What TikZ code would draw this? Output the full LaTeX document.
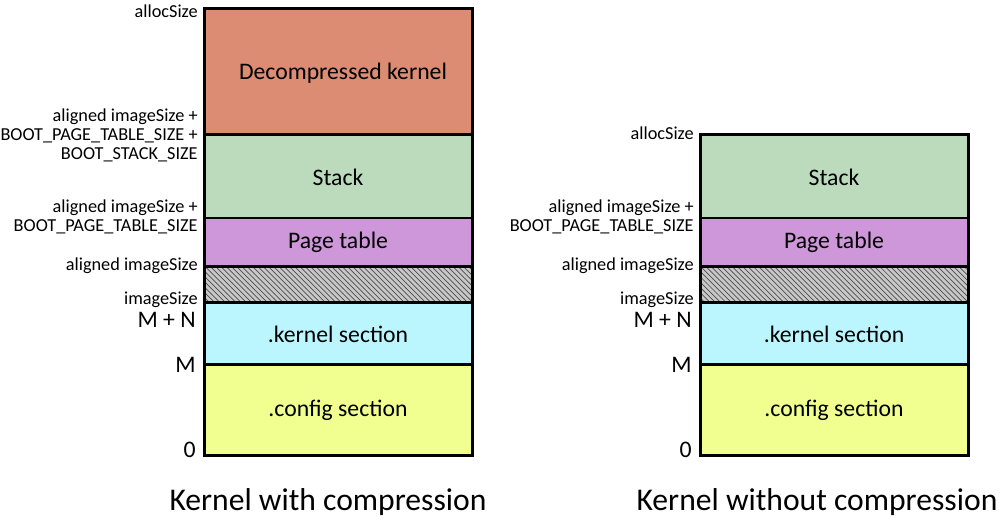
\documentclass[tikz,border=0pt]{standalone}
\usepackage{fontspec}
\setmainfont{Carlito}
\usetikzlibrary{patterns}
\definecolor{kernelred}{HTML}{DB8C73}
\definecolor{stackgreen}{HTML}{BCDBBD}
\definecolor{pagepurple}{HTML}{CD97DA}
\definecolor{padgray}{HTML}{C8C8C8}
\definecolor{kernelcyan}{HTML}{BBF6FF}
\definecolor{configyellow}{HTML}{F1FF90}
\tikzset{
  sect/.style={draw=black,line width=0.06cm},
  sectname/.style={font=\fontsize{13.5}{15}\selectfont},
  addr/.style={anchor=east,align=right,inner sep=0pt,font=\fontsize{10.4}{10.8}\selectfont},
  addrbig/.style={anchor=east,inner sep=0pt,font=\fontsize{13.5}{15}\selectfont},
  caption/.style={font=\fontsize{18}{21}\selectfont}
}
\begin{document}
\begin{tikzpicture}[x=0.02cm,y=-0.02cm]
  \useasboundingbox (0,0) rectangle (1000,520);
  %both layouts
  \foreach \s/\dx in {l/0,r/496}{
    \begin{scope}[xshift=\dx*0.02cm]
      %sections
      \filldraw[sect,fill=stackgreen] (204,135) rectangle (472,218);
      \filldraw[sect,fill=pagepurple] (204,218) rectangle (472,266);
      \fill[padgray] (204,266) rectangle (472,302);
      \fill[pattern=north west lines,pattern color=black!70] (204,266) rectangle (472,302);
      \draw[sect] (204,266) rectangle (472,302);
      \filldraw[sect,fill=kernelcyan] (204,302) rectangle (472,364);
      \filldraw[sect,fill=configyellow] (204,364) rectangle (472,455);
      \node[sectname] (stack-\s) at (338,177) {Stack};
      \node[sectname] (page-\s) at (338,242) {Page table};
      \node[sectname] (kernel-\s) at (338,334) {.kernel section};
      \node[sectname] (config-\s) at (338,410) {.config section};
      %addresses
      \node[addr] (ptop-\s) at (198,217) {aligned imageSize +\\BOOT\_PAGE\_TABLE\_SIZE};
      \node[addr] (aligned-\s) at (198,266) {aligned imageSize};
      \node[addr] (image-\s) at (198,300) {imageSize};
      \node[addrbig] (mn-\s) at (196,320) {M + N};
      \node[addrbig] (m-\s) at (196,365) {M};
      \node[addrbig] (zero-\s) at (196,450) {0};
    \end{scope}
  }
  %with compression
  \filldraw[sect,fill=kernelred] (204,9) rectangle (472,135);
  \node[sectname] (decomp) at (343,73) {Decompressed kernel};
  \node[addr] (alloc-l) at (198,11) {allocSize};
  \node[addr] (stop-l) at (198,135) {aligned imageSize +\\BOOT\_PAGE\_TABLE\_SIZE +\\BOOT\_STACK\_SIZE};
  \node[caption] (cap-l) at (328,502) {Kernel with compression};
  %without compression
  \node[addr] (alloc-r) at (694,133) {allocSize};
  \node[caption] (cap-r) at (817,502) {Kernel without compression};
\end{tikzpicture}
\end{document}
